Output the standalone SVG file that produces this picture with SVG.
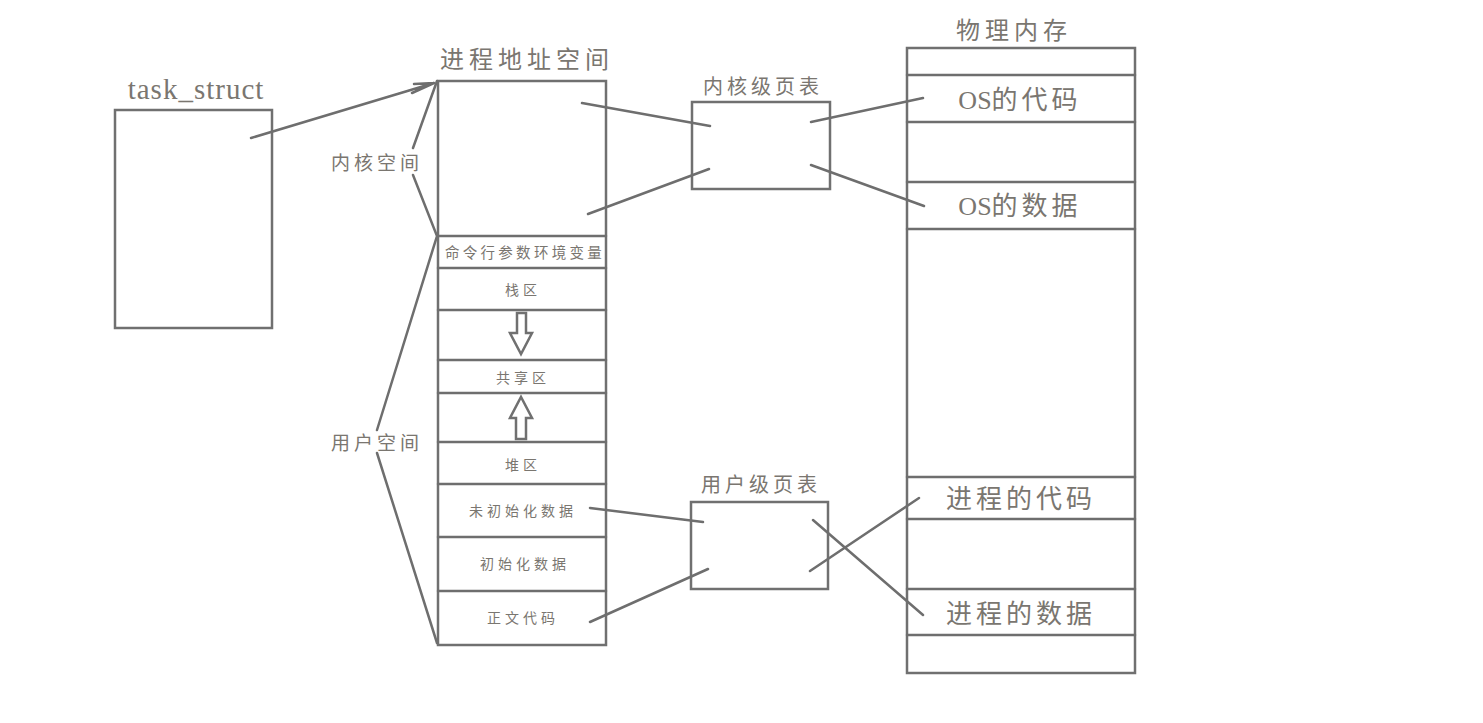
<svg xmlns="http://www.w3.org/2000/svg" width="1483" height="723" viewBox="0 0 1483 723">
<style>
.box{fill:none;stroke:#707070;stroke-width:2.5}
.ln{fill:none;stroke:#6e6e6e;stroke-width:2.5;stroke-linecap:round}
.t{font-family:"Liberation Serif","Noto Sans CJK SC",serif;fill:#7a7670;text-anchor:middle;dominant-baseline:central}
.s{font-size:14px;letter-spacing:4px}
.m{font-size:26px;letter-spacing:4px}
.o{letter-spacing:0}
</style>
<rect width="1483" height="723" fill="#ffffff"/>
<g id="task_struct">
<text class="t" x="196" y="89" font-size="29" letter-spacing="1">task_struct</text>
<rect class="box" x="115" y="110" width="157" height="218"/>
</g>
<g id="address_space">
<text class="t" x="527" y="60" font-size="24" letter-spacing="5">进程地址空间</text>
<rect class="box" x="438" y="81" width="168" height="564"/>
<path class="ln" d="M438 236H606M438 268H606M438 310H606M438 360H606M438 393H606M438 442H606M438 484H606M438 537H606M438 591H606"/>
<text class="t" x="525" y="253" font-size="14.5" letter-spacing="3.3">命令行参数环境变量</text>
<text class="t s" x="523" y="290">栈区</text>
<text class="t s" x="523" y="378">共享区</text>
<text class="t s" x="523" y="465">堆区</text>
<text class="t s" x="523" y="511">未初始化数据</text>
<text class="t s" x="525" y="564">初始化数据</text>
<text class="t s" x="523" y="618">正文代码</text>
<path class="box" d="M517 313H526V333H532L521 354L510 333H517Z"/>
<path class="box" d="M516 439H526V418H532L521 397L510 418H516Z"/>
</g>
<g id="braces">
<text class="t" x="377" y="163" font-size="19" letter-spacing="4">内核空间</text>
<text class="t" x="377" y="443" font-size="19" letter-spacing="4">用户空间</text>
</g>
<g id="kernel_pt">
<text class="t" x="763" y="87" font-size="20" letter-spacing="4">内核级页表</text>
<rect class="box" x="692" y="102" width="138" height="87"/>
</g>
<g id="user_pt">
<text class="t" x="761" y="485" font-size="20" letter-spacing="4">用户级页表</text>
<rect class="box" x="691" y="502" width="137" height="87"/>
</g>
<g id="physical_memory">
<text class="t" x="1014" y="31" font-size="24" letter-spacing="5">物理内存</text>
<rect class="box" x="907" y="48" width="228" height="625"/>
<path class="ln" d="M907 75H1135M907 122H1135M907 182H1135M907 229H1135M907 477H1135M907 519H1135M907 589H1135M907 635H1135"/>
<text class="t m" x="1020" y="100"><tspan class="o">OS</tspan>的代码</text>
<text class="t m" x="1020" y="206"><tspan class="o">OS</tspan>的数据</text>
<text class="t m" x="1021" y="499">进程的代码</text>
<text class="t m" x="1021" y="614">进程的数据</text>
</g>
<g id="connectors">
<path class="ln" d="M251 138L434 83M412 93L434 83L414 84"/>
<path class="ln" d="M437 81L413 148M413 175L437 236L377 430M377 453L437 643"/>
<path class="ln" d="M582 103L710 126M588 214L709 169M811 122L923 98M811 165L924 206"/>
<path class="ln" d="M590 508L703 522M590 622L708 569M810 571L919 498M813 520L923 615"/>
</g>
</svg>
